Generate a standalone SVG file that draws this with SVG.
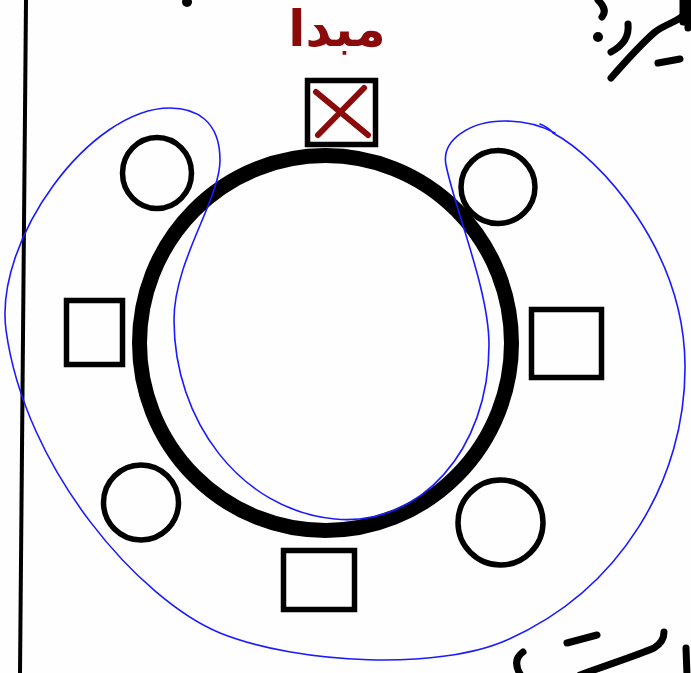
<svg xmlns="http://www.w3.org/2000/svg" width="691" height="673" viewBox="0 0 691 673">
  <style>
    .ink { fill: none; stroke: #000; stroke-width: 5.5; }
    .ring { fill: none; stroke: #000; stroke-width: 15; }
    .mark { fill: none; stroke: #8b0a0a; stroke-width: 6; stroke-linecap: round; }
    .blue { fill: none; stroke: #1a1aff; stroke-width: 1.6; stroke-linejoin: round; stroke-linecap: round; }
    .red { fill: #8b0a0a; font-family: "DejaVu Sans", "Noto Sans", sans-serif; font-size: 50px; font-weight: bold; }
    .scrawl { fill: none; stroke: #000; stroke-width: 7; stroke-linecap: round; stroke-linejoin: round; }
  </style>
  <rect width="691" height="673" fill="#fefefe"/>
  <line x1="26" y1="0" x2="20" y2="673" stroke="#000" stroke-width="4"/>

  <g id="table">
    <ellipse class="ring" cx="325.5" cy="343" rx="186" ry="187.5"/>
  </g>
  <g id="start-label">
    <text class="red" x="337" y="46" text-anchor="middle">مبدا</text>
  </g>
  <g id="seat-start">
    <rect class="ink" x="307.5" y="80.5" width="68" height="64"/>
    <line class="mark" x1="316" y1="92" x2="368" y2="135"/>
    <line class="mark" x1="364" y1="88" x2="318" y2="135"/>
  </g>
  <g id="seat-top-right"><ellipse class="ink" cx="498" cy="187" rx="37" ry="36.5"/></g>
  <g id="seat-right"><rect class="ink" x="531.5" y="309.5" width="70" height="68"/></g>
  <g id="seat-bottom-right"><ellipse class="ink" cx="500.5" cy="522.5" rx="42.5" ry="42.5"/></g>
  <g id="seat-bottom"><rect class="ink" x="283.5" y="550.5" width="71" height="59"/></g>
  <g id="seat-bottom-left"><ellipse class="ink" cx="141" cy="502.5" rx="37.5" ry="37.5"/></g>
  <g id="seat-left"><rect class="ink" x="66.5" y="300.5" width="56" height="64"/></g>
  <g id="seat-top-left"><ellipse class="ink" cx="157" cy="173" rx="34.5" ry="35.5"/></g>

  <g id="connectors">
    <path class="blue" d="M 540,124 C 545,126 550,129 553,133
      C 600,158 684,250 685,365
      C 686,480 620,590 507,640
      C 440,670 300,665 220,633
      C 140,600 25,470 6,330
      C -6,240 90,108 170,108
      C 195,108 220,120 220,160
      C 220,200 174,260 174,320
      C 174,420 240,510 335,519
      C 420,527 489,450 489,345
      C 489,290 455,210 446,165
      C 441,140 470,121 505,121
      C 525,121 540,125 555,133"/>
  </g>

  <g id="edge-ink">
    <circle cx="187" cy="2" r="5" fill="#000"/>
    <path class="scrawl" d="M 598,0 Q 608,10 602,17"/>
    <circle cx="598" cy="37" r="5" fill="#000"/>
    <path class="scrawl" d="M 628,24 Q 630,42 611,52"/>
    <path class="scrawl" d="M 611,78 C 625,62 640,45 655,32 C 668,22 680,22 686,12 L 692,0"/>
    <path class="scrawl" d="M 683,0 L 683,22 M 688,0 L 688,28"/>
    <path class="scrawl" d="M 658,63 L 680,59"/>
    <path class="scrawl" d="M 523,652 Q 512,660 520,674"/>
    <path class="scrawl" d="M 580,675 C 610,664 638,655 654,648 Q 664,642 664,632"/>
    <path class="scrawl" d="M 567,643 L 597,635"/>
    <path class="scrawl" d="M 686,648 L 687,675"/>
  </g>
</svg>
